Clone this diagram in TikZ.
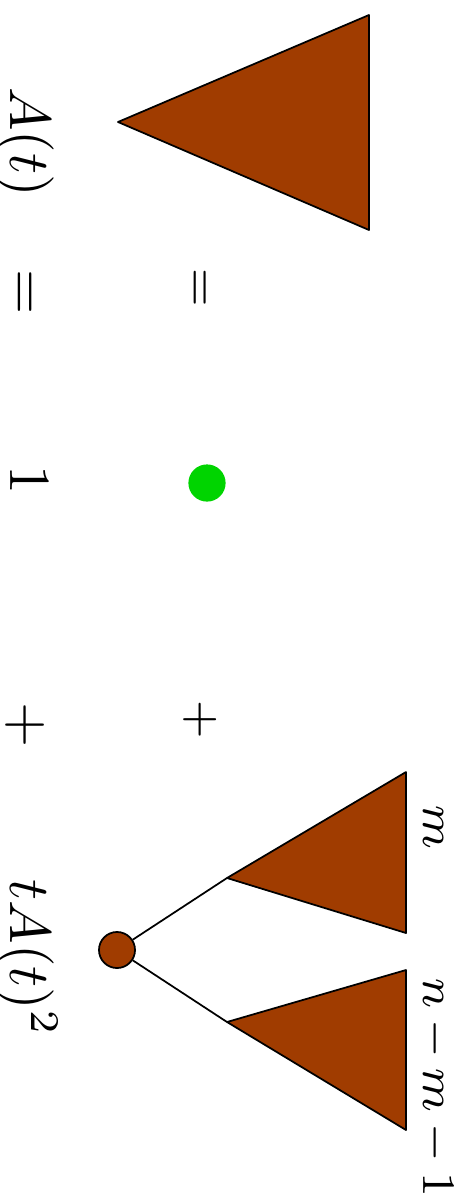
\documentclass[tikz,border=0pt]{standalone}
\usetikzlibrary{positioning}
\definecolor{treebrown}{RGB}{160,60,0}
\definecolor{leafgreen}{RGB}{0,212,0}
\tikzset{
  subtree/.style={draw=black, fill=treebrown, line width=0.3pt, line join=round},
  rootdot/.style={circle, draw=black, fill=treebrown, line width=0.3pt, minimum size=6.2pt, inner sep=0pt},
  leafdot/.style={circle, fill=leafgreen, minimum size=6.4pt, inner sep=0pt},
  edge/.style={line width=0.3pt},
  eqtext/.style={rotate=-90, inner sep=0pt, anchor=base},
  smalltext/.style={eqtext, font=\footnotesize},
}

\begin{document}
\begin{tikzpicture}[x=0.172pt,y=-0.172pt]
            \useasboundingbox(0,0)rectangle(465,1196);
            % the equation, left column
            \node[eqtext](lhs)at(10,142){$A(t)$};
            \node[eqtext](eqa)at(10,292){$=$};
            \node[eqtext](one)at(10,480){$1$};
            \node[eqtext](plusa)at(10,725){$+$};
            \node[eqtext](rhs)at(10,958){$tA(t)^2$};
            % the pictures, right column
            \coordinate(T)at(118,122);
            \coordinate(T1)at(369,15);
            \coordinate(T2)at(369,230);
            \draw[subtree](T)--(T1)--(T2)--cycle;
            \node[smalltext](eqb)at(189,288){$=$};
            \node[leafdot](leaf)at(207,483){};
            \node[smalltext](plusb)at(188,720){$+$};
            \node[rootdot](root)at(117,950){};
            \coordinate(L)at(227,878);
            \coordinate(L1)at(406,772);
            \coordinate(L2)at(406,933);
            \coordinate(R)at(227,1022);
            \coordinate(R1)at(406,970);
            \coordinate(R2)at(406,1130);
            \draw[subtree](L)--(L1)--(L2)--cycle;
            \draw[subtree](R)--(R1)--(R2)--cycle;
            \draw[edge](root)--(L);
            \draw[edge](root)--(R);
            \node[smalltext](lsize)at(423,827){$m$};
            \node[smalltext](rsize)at(423,1088){$n-m-1$};
        \end{tikzpicture}
\end{document}
